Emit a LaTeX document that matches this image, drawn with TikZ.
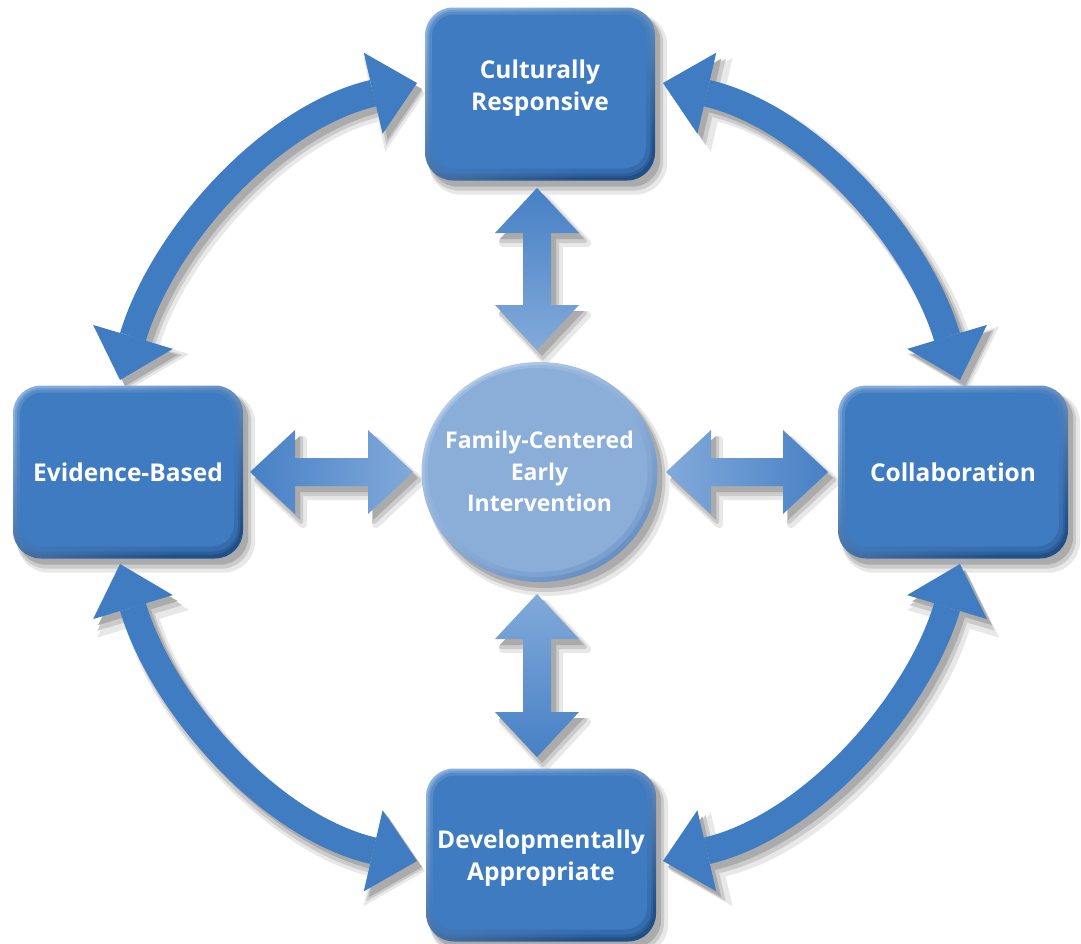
\documentclass[tikz,border=0pt]{standalone}
\usepackage{fontspec}
\setmainfont{Open Sans}
\usetikzlibrary{arrows.meta,calc,shapes.geometric}

% palette
\definecolor{cardface}{HTML}{3E7BC0}
\definecolor{cardhi}{HTML}{8AB0DD}
\definecolor{cardlo}{HTML}{214F88}
\definecolor{ringblue}{HTML}{3F7CC1}
\definecolor{hubface}{HTML}{8AAED8}
\definecolor{hubhi}{HTML}{B4CCEA}
\definecolor{hublo}{HTML}{6890C3}
\definecolor{linkdark}{HTML}{4680C5}
\definecolor{linklight}{HTML}{82AADA}
\definecolor{shadeA}{HTML}{E8E8E8}
\definecolor{shadeB}{HTML}{CBCBCB}
\definecolor{shadeC}{HTML}{ABABAB}

\pgfdeclarelayer{shadows}
\pgfsetlayers{shadows,main}

\tikzset{
  label text/.style={text=white, align=center,
    font=\bfseries\fontsize{24.5}{32}\selectfont},
  card/.style={label text, rectangle, rounded corners=28pt,
    minimum width=230pt, minimum height=173pt, inner sep=0pt,
    top color=cardhi, bottom color=cardlo, shading angle=25,
    path picture={
      \fill[cardface, opacity=.35, rounded corners=27pt]
        ([shift={(2pt,-2pt)}]path picture bounding box.north west) rectangle
        ([shift={(-3pt,4pt)}]path picture bounding box.south east);
      \fill[cardface, opacity=.5, rounded corners=25pt]
        ([shift={(4pt,-4pt)}]path picture bounding box.north west) rectangle
        ([shift={(-5pt,7pt)}]path picture bounding box.south east);
      \fill[cardface, rounded corners=22pt]
        ([shift={(7pt,-7pt)}]path picture bounding box.north west) rectangle
        ([shift={(-9pt,12pt)}]path picture bounding box.south east);
    }},
  hub/.style={label text, font=\bfseries\fontsize{23}{31.5}\selectfont,
    ellipse, minimum width=236pt, minimum height=220pt, inner sep=0pt,
    top color=hubhi, bottom color=hublo, shading angle=35,
    path picture={
      \fill[hubface, opacity=.5]
        ([shift={(-1pt,1pt)}]path picture bounding box.center)
        ellipse [x radius=114pt, y radius=106pt];
      \fill[hubface]
        ([shift={(-2pt,2pt)}]path picture bounding box.center)
        ellipse [x radius=110pt, y radius=102pt];
    }},
  ringhead/.style={arrows={Triangle[length=#1,width=1.85*#1,line width=0pt]-Triangle[length=#1,width=1.85*#1,line width=0pt]}},
  ring/.style={draw=ringblue, line width=27pt, ringhead=45pt},
}

% multi-line label, raised by #1 without changing its box
\newcommand\stacked[2]{\raisebox{#1}[\height][\depth]{\begin{tabular}{@{}c@{}}#2\end{tabular}}}

% double-headed block arrows between two named tips
\newcommand\linkH[2]{(#1) -- ++(45,-42) -- ++(0,28) -- ($(#2)+(-45,-14)$) -- ++(0,-28)
  -- (#2) -- ++(-45,42) -- ++(0,-28) -- ($(#1)+(45,14)$) -- ++(0,28) -- cycle}
\newcommand\linkV[2]{(#1) -- ++(42,45) -- ++(-28,0) -- ($(#2)+(14,-45)$) -- ++(28,0)
  -- (#2) -- ++(-42,-45) -- ++(28,0) -- ($(#1)+(-14,45)$) -- ++(-28,0) -- cycle}

% soft drop shadow for a closed path
\newcommand\softshadow[2]{%
  \begin{pgfonlayer}{shadows}
    \begin{scope}[transform canvas={shift={(8pt,-10pt)}}]
      \filldraw[shadeA, line width=8pt, line join=round, #1] #2;
    \end{scope}
    \begin{scope}[transform canvas={shift={(6pt,-8pt)}}]
      \filldraw[shadeB, line width=4pt, line join=round, #1] #2;
    \end{scope}
    \begin{scope}[transform canvas={shift={(5pt,-6pt)}}]
      \fill[shadeC, #1] #2;
    \end{scope}
  \end{pgfonlayer}}

% soft drop shadow for a curved double arrow
\newcommand\ringshadow[1]{%
  \begin{pgfonlayer}{shadows}
    \begin{scope}[transform canvas={shift={(8pt,-10pt)}}]
      \draw[shadeA, line width=35pt, ringhead=52pt] #1;
    \end{scope}
    \begin{scope}[transform canvas={shift={(6pt,-8pt)}}]
      \draw[shadeB, line width=31pt, ringhead=48pt] #1;
    \end{scope}
    \begin{scope}[transform canvas={shift={(5pt,-6pt)}}]
      \draw[shadeC, line width=27pt, ringhead=45pt] #1;
    \end{scope}
  \end{pgfonlayer}}

\begin{document}
\begin{tikzpicture}[x=1pt, y=-1pt]
  \useasboundingbox (0,0) rectangle (1081,943);
  \begin{pgfonlayer}{shadows}
    \fill[white] (0,0) rectangle (1081,943);
  \end{pgfonlayer}

  % the five topics
  \node[card] (cr) at (540,94)  {\stacked{6pt}{Culturally\\Responsive}};
  \node[card] (eb) at (128,472) {Evidence-Based};
  \node[card] (co) at (953,472) {Collaboration};
  \node[card] (da) at (541,855) {\stacked{-3pt}{Developmentally\\Appropriate}};
  \node[hub]  (fc) at (539.5,472)
    {\makebox[0pt]{\stacked{-2pt}{Family-Centered\\Early\\Intervention}}};

  \foreach \n in {cr,eb,co,da}
    \softshadow{rounded corners=28pt}{(\n.south west) rectangle (\n.north east)};
  \softshadow{}{(fc.center) ellipse [x radius=118pt, y radius=110pt]};

  % tips of the outer ring arrows
  \coordinate (tlA) at (120,380);  \coordinate (tlB) at (417,83);
  \coordinate (trA) at (960,380);  \coordinate (trB) at (663,83);
  \coordinate (blA) at (120,564);  \coordinate (blB) at (417,861);
  \coordinate (brA) at (960,564);  \coordinate (brB) at (663,861);

  \ringshadow{(tlA) .. controls (163,237) and (271,117) .. (tlB)}
  \ringshadow{(trA) .. controls (917,237) and (809,117) .. (trB)}
  \ringshadow{(blA) .. controls (163,707) and (271,827) .. (blB)}
  \ringshadow{(brA) .. controls (917,707) and (809,827) .. (brB)}

  \draw[ring] (tlA) .. controls (163,237) and (271,117) .. (tlB);
  \draw[ring] (trA) .. controls (917,237) and (809,117) .. (trB);
  \draw[ring] (blA) .. controls (163,707) and (271,827) .. (blB);
  \draw[ring] (brA) .. controls (917,707) and (809,827) .. (brB);

  % tips of the spokes to the hub
  \coordinate (wA) at (250,472);  \coordinate (wB) at (413,472);
  \coordinate (eA) at (666,472);  \coordinate (eB) at (828,472);
  \coordinate (nA) at (537,188);  \coordinate (nB) at (537,350);
  \coordinate (sA) at (537,594);  \coordinate (sB) at (537,757);

  \softshadow{}{\linkH{wA}{wB}};
  \softshadow{}{\linkH{eA}{eB}};
  \softshadow{}{\linkV{nA}{nB}};
  \softshadow{}{\linkV{sA}{sB}};

  \shade[left color=linkdark, right color=linklight] \linkH{wA}{wB};
  \shade[left color=linklight, right color=linkdark] \linkH{eA}{eB};
  \shade[top color=linkdark, bottom color=linklight] \linkV{nA}{nB};
  \shade[top color=linklight, bottom color=linkdark] \linkV{sA}{sB};
\end{tikzpicture}
\end{document}
